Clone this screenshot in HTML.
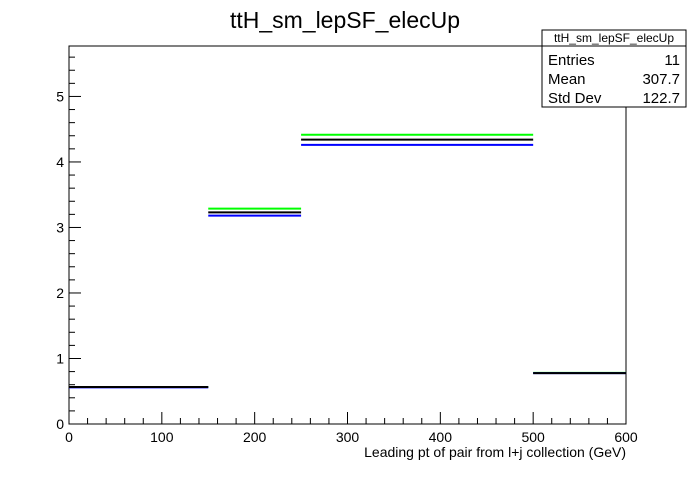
<!DOCTYPE html>
<html><head><meta charset="utf-8"><style>
body{margin:0;background:#fff;font-family:"Liberation Sans",sans-serif}
svg text{font-family:"Liberation Sans",sans-serif}
</style></head><body>
<svg width="696" height="472" viewBox="0 0 696 472">
<rect width="696" height="472" fill="#fff"/>
<text x="345" y="28" font-size="23" text-anchor="middle">ttH_sm_lepSF_elecUp</text>
<rect x="69" y="46" width="557" height="378" fill="none" stroke="#000" stroke-width="1"/>
<g id="axes"></g>
<g id="marks"></g>
<text x="626" y="457" font-size="14" text-anchor="end">Leading pt of pair from l+j collection (GeV)</text>
<g>
<rect x="542" y="30" width="144" height="77" fill="#fff" stroke="#000"/>
<line x1="542" y1="46" x2="686" y2="46" stroke="#000"/>
<text x="614" y="42" font-size="12" text-anchor="middle">ttH_sm_lepSF_elecUp</text>
<text x="548" y="65" font-size="15">Entries</text><text x="680" y="65" font-size="15" text-anchor="end">11</text>
<text x="548" y="84" font-size="15">Mean</text><text x="680" y="84" font-size="15" text-anchor="end">307.7</text>
<text x="548" y="103" font-size="15">Std Dev</text><text x="680" y="103" font-size="15" text-anchor="end">122.7</text>
</g>
</svg>
<script>
const binEdges=[0,150,250,500,600];
const blackVals=[0.565,3.23,4.34,0.777];
const blueVals=[0.56,3.18,4.26,0.777];
const greenVals=[0.565,3.288,4.416,0.78];
const xTicks=[0,100,200,300,400,500,600];
const yTicks=[0,1,2,3,4,5];
const NS="http://www.w3.org/2000/svg";
const X0=69,X1=626,Y0=424,YMAX=5.77,YTOP=46;
const sx=v=>X0+(v/600)*(X1-X0);
const sy=v=>Y0-(v/YMAX)*(Y0-YTOP);
function mk(tag,attrs,parent){const e=document.createElementNS(NS,tag);for(const k in attrs)e.setAttribute(k,attrs[k]);parent.appendChild(e);return e;}
const ax=document.getElementById('axes');
for(let v=0;v<=600;v+=20){const maj=v%100===0;
 const l=mk('line',{x1:sx(v),x2:sx(v),y1:Y0,y2:Y0-(maj?12:6),stroke:'#000'},ax);
 
 }
for(let v=0;v<=YMAX+1e-9;v+=0.2){const maj=Math.abs(v-Math.round(v))<1e-6;
 const l=mk('line',{x1:X0,x2:X0+(maj?12:6),y1:sy(v),y2:sy(v),stroke:'#000'},ax);
 
 }
xTicks.forEach(v=>{const t=mk('text',{x:sx(v),y:442,'font-size':14,'text-anchor':'middle'},ax);t.textContent=v;
 
 });
yTicks.forEach(v=>{const t=mk('text',{x:X0-5,y:sy(v)+5,'font-size':14,'text-anchor':'end'},ax);t.textContent=v;
 
 });
const mg=document.getElementById('marks');
[[greenVals,'#00ff00','green'],[blueVals,'#0000ff','blue'],[blackVals,'#000','black']].forEach(([vals,col,nm])=>{
 vals.forEach((v,i)=>{const l=mk('line',{x1:sx(binEdges[i]),x2:sx(binEdges[i+1]),y1:sy(v),y2:sy(v),stroke:col,'stroke-width':2},mg);
  
  });
});
</script>
</body></html>
